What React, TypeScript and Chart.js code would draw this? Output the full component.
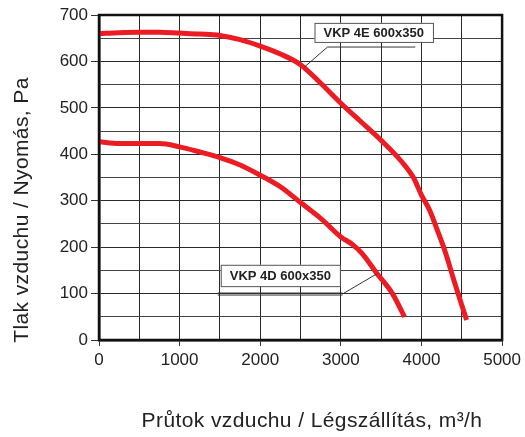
import React, { useEffect, useRef } from "react";
import { Chart, registerables } from "chart.js";
Chart.register(...registerables);

const flow4E = [0, 250, 500, 750, 1000, 1250, 1500, 1750, 2000, 2250, 2500, 2750, 3000, 3250, 3500, 3750, 3900, 4000, 4100, 4200, 4300, 4400, 4500, 4560];
const pres4E = [660, 662, 663, 663, 661, 659, 656, 647, 633, 616, 593, 553, 510, 470, 430, 385, 350, 312, 280, 235, 187, 130, 75, 43];
const flow4D = [0, 250, 500, 750, 1000, 1250, 1500, 1750, 2000, 2250, 2500, 2750, 3000, 3150, 3270, 3440, 3640, 3790];
const pres4D = [427, 423, 423, 423, 416, 405, 393, 377, 355, 330, 296, 262, 222, 205, 185, 145, 100, 50];
const seriesNames = ["VKP 4E 600x350", "VKP 4D 600x350"];
const xTitle = "Průtok vzduchu / Légszállítás, m³/h";
const yTitle = "Tlak vzduchu / Nyomás, Pa";

// annotation anchors in data units
const label4E = { x: 2673, yTop: 683, yBottom: 642 };
const leader4E = { x1: 2834, x2: 3923, y: 631, tipX: 2549, tipY: 588 };
const label4D = { x: 1510, yTop: 162, yBottom: 116 };
const leader4D = { x1: 1473, x2: 3020, y: 99, tipX: 3441, tipY: 142 };

const FONT = "'Liberation Sans', Arial, Helvetica, sans-serif";

export default function App() {
  const ref = useRef<HTMLCanvasElement>(null);
  useEffect(() => {
    document.body.style.margin = "0";
    const canvas = ref.current!;
    const overlay = {
      id: "overlay",
      afterDatasetsDraw(chart: any) {
        const { ctx, chartArea, scales } = chart;
        const xs = scales.x, ys = scales.y;
        ctx.save();
        // frame
        ctx.strokeStyle = "#111";
        ctx.lineWidth = 2.5;
        ctx.strokeRect(chartArea.left, chartArea.top, chartArea.right - chartArea.left, chartArea.bottom - chartArea.top);
        // labels
        ctx.font = `bold 13px ${FONT}`;
        ctx.textBaseline = "middle";
        const drawBox = (text: string, lab: any) => {
          const x = xs.getPixelForValue(lab.x);
          const yT = ys.getPixelForValue(lab.yTop);
          const yB = ys.getPixelForValue(lab.yBottom);
          const w = ctx.measureText(text).width + 18;
          ctx.fillStyle = "#fff";
          ctx.fillRect(x, yT, w, yB - yT);
          ctx.strokeStyle = "#555";
          ctx.lineWidth = 1;
          ctx.strokeRect(x + 0.5, yT + 0.5, w, yB - yT);
          ctx.fillStyle = "#222";
          ctx.textAlign = "left";
          ctx.fillText(text, x + 9, (yT + yB) / 2 + 1);
        };
        drawBox(seriesNames[0], label4E);
        drawBox(seriesNames[1], label4D);
        ctx.strokeStyle = "#333";
        ctx.lineWidth = 1;
        // 4E leader
        let y = ys.getPixelForValue(leader4E.y);
        ctx.beginPath();
        ctx.moveTo(xs.getPixelForValue(leader4E.x2), y);
        ctx.lineTo(xs.getPixelForValue(leader4E.x1), y);
        ctx.lineTo(xs.getPixelForValue(leader4E.tipX), ys.getPixelForValue(leader4E.tipY));
        ctx.stroke();
        // 4D leader (double line)
        y = ys.getPixelForValue(leader4D.y);
        ctx.beginPath();
        ctx.moveTo(xs.getPixelForValue(leader4D.x1), y - 1);
        ctx.lineTo(xs.getPixelForValue(leader4D.x2), y - 1);
        ctx.moveTo(xs.getPixelForValue(leader4D.x1), y + 1);
        ctx.lineTo(xs.getPixelForValue(leader4D.x2), y + 1);
        ctx.moveTo(xs.getPixelForValue(leader4D.x2), y);
        ctx.lineTo(xs.getPixelForValue(leader4D.tipX), ys.getPixelForValue(leader4D.tipY));
        ctx.stroke();
        // axis titles
        ctx.fillStyle = "#222";
        ctx.font = `21px ${FONT}`;
        (ctx as any).letterSpacing = "0.4px";
        ctx.textAlign = "center";
        ctx.textBaseline = "middle";
        ctx.fillText(xTitle, 312, 421);
        ctx.translate(22, 210);
        ctx.rotate(-Math.PI / 2);
        ctx.fillText(yTitle, 0, 0);
        (ctx as any).letterSpacing = "0px";
        ctx.restore();
      },
    };
    const gridColor = (c: any) => {
      const v = c.tick ? c.tick.value : 0;
      return v % 100 === 0 ? "#2a2a2a" : "#444";
    };
    const chart = new Chart(canvas, {
      type: "line",
      data: {
        datasets: [
          {
            label: seriesNames[0],
            data: flow4E.map((x, i) => ({ x, y: pres4E[i] })),
            borderColor: "#ec1c24",
            borderWidth: 5,
            pointRadius: 0,
            cubicInterpolationMode: "monotone",
            borderCapStyle: "butt",
          },
          {
            label: seriesNames[1],
            data: flow4D.map((x, i) => ({ x, y: pres4D[i] })),
            borderColor: "#ec1c24",
            borderWidth: 5,
            pointRadius: 0,
            cubicInterpolationMode: "monotone",
            borderCapStyle: "butt",
          },
        ],
      },
      options: {
        animation: false,
        responsive: false,
        layout: { padding: { top: 15, right: 22, left: 0, bottom: 0 } },
        plugins: { legend: { display: false }, tooltip: { enabled: false } },
        scales: {
          x: {
            type: "linear",
            min: 0,
            max: 5000,
            afterFit: (s: any) => { s.height = 97; },
            ticks: {
              stepSize: 500,
              autoSkip: false,
              maxRotation: 0,
              color: "#222",
              font: { family: FONT, size: 17 },
              padding: 4,
              callback: (v: any) => (v % 1000 === 0 ? String(v) : ""),
            },
            grid: {
              color: gridColor,
              lineWidth: 1,
              tickLength: 6,
              tickColor: (c: any) => (c.tick && c.tick.value % 1000 === 0 ? "#333" : "rgba(0,0,0,0)"),
            },
            border: { color: "#111", width: 2.5 },
          },
          y: {
            type: "linear",
            min: 0,
            max: 700,
            afterFit: (s: any) => { s.width = 99; },
            ticks: {
              stepSize: 50,
              autoSkip: false,
              color: "#222",
              font: { family: FONT, size: 17 },
              padding: 3,
              callback: (v: any) => (v % 100 === 0 ? String(v) : ""),
            },
            grid: {
              color: gridColor,
              lineWidth: 1,
              tickLength: 8,
              tickColor: (c: any) => (c.tick && c.tick.value % 100 === 0 ? "#333" : "rgba(0,0,0,0)"),
            },
            border: { color: "#111", width: 2.5 },
          },
        },
      },
      plugins: [overlay],
    });
    return () => chart.destroy();
  }, []);
  return (
    <div style={{ width: 525, height: 437, background: "#fff" }}>
      <canvas ref={ref} width={525} height={437} />
    </div>
  );
}
